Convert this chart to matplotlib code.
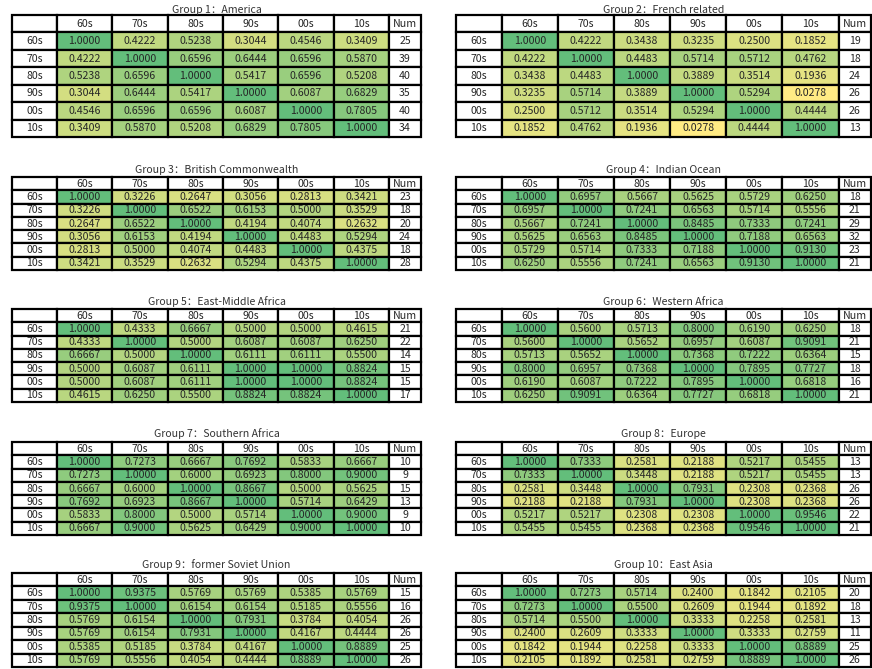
import matplotlib
matplotlib.use("Agg")
import matplotlib.pyplot as plt
from matplotlib.colors import LinearSegmentedColormap, Normalize

plt.rcParams['font.family'] = ['Noto Sans CJK SC', 'DejaVu Sans']

decades = ["60s", "70s", "80s", "90s", "00s", "10s"]

titles = ["Group 1：America", "Group 2：French related", "Group 3：British Commonwealth",
          "Group 4：Indian Ocean", "Group 5：East-Middle Africa", "Group 6：Western Africa",
          "Group 7：Southern Africa", "Group 8：Europe", "Group 9：former Soviet Union",
          "Group 10：East Asia"]

g1 = [[1.0000, 0.4222, 0.5238, 0.3044, 0.4546, 0.3409],
      [0.4222, 1.0000, 0.6596, 0.6444, 0.6596, 0.5870],
      [0.5238, 0.6596, 1.0000, 0.5417, 0.6596, 0.5208],
      [0.3044, 0.6444, 0.5417, 1.0000, 0.6087, 0.6829],
      [0.4546, 0.6596, 0.6596, 0.6087, 1.0000, 0.7805],
      [0.3409, 0.5870, 0.5208, 0.6829, 0.7805, 1.0000]]
g2 = [[1.0000, 0.4222, 0.3438, 0.3235, 0.2500, 0.1852],
      [0.4222, 1.0000, 0.4483, 0.5714, 0.5712, 0.4762],
      [0.3438, 0.4483, 1.0000, 0.3889, 0.3514, 0.1936],
      [0.3235, 0.5714, 0.3889, 1.0000, 0.5294, 0.0278],
      [0.2500, 0.5712, 0.3514, 0.5294, 1.0000, 0.4444],
      [0.1852, 0.4762, 0.1936, 0.0278, 0.4444, 1.0000]]
g3 = [[1.0000, 0.3226, 0.2647, 0.3056, 0.2813, 0.3421],
      [0.3226, 1.0000, 0.6522, 0.6153, 0.5000, 0.3529],
      [0.2647, 0.6522, 1.0000, 0.4194, 0.4074, 0.2632],
      [0.3056, 0.6153, 0.4194, 1.0000, 0.4483, 0.5294],
      [0.2813, 0.5000, 0.4074, 0.4483, 1.0000, 0.4375],
      [0.3421, 0.3529, 0.2632, 0.5294, 0.4375, 1.0000]]
g4 = [[1.0000, 0.6957, 0.5667, 0.5625, 0.5729, 0.6250],
      [0.6957, 1.0000, 0.7241, 0.6563, 0.5714, 0.5556],
      [0.5667, 0.7241, 1.0000, 0.8485, 0.7333, 0.7241],
      [0.5625, 0.6563, 0.8485, 1.0000, 0.7188, 0.6563],
      [0.5729, 0.5714, 0.7333, 0.7188, 1.0000, 0.9130],
      [0.6250, 0.5556, 0.7241, 0.6563, 0.9130, 1.0000]]
g5 = [[1.0000, 0.4333, 0.6667, 0.5000, 0.5000, 0.4615],
      [0.4333, 1.0000, 0.5000, 0.6087, 0.6087, 0.6250],
      [0.6667, 0.5000, 1.0000, 0.6111, 0.6111, 0.5500],
      [0.5000, 0.6087, 0.6111, 1.0000, 1.0000, 0.8824],
      [0.5000, 0.6087, 0.6111, 1.0000, 1.0000, 0.8824],
      [0.4615, 0.6250, 0.5500, 0.8824, 0.8824, 1.0000]]
g6 = [[1.0000, 0.5600, 0.5713, 0.8000, 0.6190, 0.6250],
      [0.5600, 1.0000, 0.5652, 0.6957, 0.6087, 0.9091],
      [0.5713, 0.5652, 1.0000, 0.7368, 0.7222, 0.6364],
      [0.8000, 0.6957, 0.7368, 1.0000, 0.7895, 0.7727],
      [0.6190, 0.6087, 0.7222, 0.7895, 1.0000, 0.6818],
      [0.6250, 0.9091, 0.6364, 0.7727, 0.6818, 1.0000]]
g7 = [[1.0000, 0.7273, 0.6667, 0.7692, 0.5833, 0.6667],
      [0.7273, 1.0000, 0.6000, 0.6923, 0.8000, 0.9000],
      [0.6667, 0.6000, 1.0000, 0.8667, 0.5000, 0.5625],
      [0.7692, 0.6923, 0.8667, 1.0000, 0.5714, 0.6429],
      [0.5833, 0.8000, 0.5000, 0.5714, 1.0000, 0.9000],
      [0.6667, 0.9000, 0.5625, 0.6429, 0.9000, 1.0000]]
g8 = [[1.0000, 0.7333, 0.2581, 0.2188, 0.5217, 0.5455],
      [0.7333, 1.0000, 0.3448, 0.2188, 0.5217, 0.5455],
      [0.2581, 0.3448, 1.0000, 0.7931, 0.2308, 0.2368],
      [0.2188, 0.2188, 0.7931, 1.0000, 0.2308, 0.2368],
      [0.5217, 0.5217, 0.2308, 0.2308, 1.0000, 0.9546],
      [0.5455, 0.5455, 0.2368, 0.2368, 0.9546, 1.0000]]
g9 = [[1.0000, 0.9375, 0.5769, 0.5769, 0.5385, 0.5769],
      [0.9375, 1.0000, 0.6154, 0.6154, 0.5185, 0.5556],
      [0.5769, 0.6154, 1.0000, 0.7931, 0.3784, 0.4054],
      [0.5769, 0.6154, 0.7931, 1.0000, 0.4167, 0.4444],
      [0.5385, 0.5185, 0.3784, 0.4167, 1.0000, 0.8889],
      [0.5769, 0.5556, 0.4054, 0.4444, 0.8889, 1.0000]]
g10 = [[1.0000, 0.7273, 0.5714, 0.2400, 0.1842, 0.2105],
       [0.7273, 1.0000, 0.5500, 0.2609, 0.1944, 0.1892],
       [0.5714, 0.5500, 1.0000, 0.3333, 0.2258, 0.2581],
       [0.2400, 0.2609, 0.3333, 1.0000, 0.3333, 0.2759],
       [0.1842, 0.1944, 0.2258, 0.3333, 1.0000, 0.8889],
       [0.2105, 0.1892, 0.2581, 0.2759, 0.8889, 1.0000]]
groups = [g1, g2, g3, g4, g5, g6, g7, g8, g9, g10]

nums = [[25, 39, 40, 35, 40, 34],
        [19, 18, 24, 26, 26, 13],
        [23, 18, 20, 24, 18, 28],
        [18, 21, 29, 32, 23, 21],
        [21, 22, 14, 15, 15, 17],
        [18, 21, 15, 18, 16, 21],
        [10, 9, 15, 13, 9, 10],
        [13, 13, 26, 26, 22, 21],
        [15, 16, 26, 26, 25, 26],
        [20, 18, 13, 11, 25, 26]]

# excel style green-yellow colour scale
cmap = LinearSegmentedColormap.from_list("gy", ["#FFEB84", "#63BE7B"])
allvals = [v for g in groups for row in g for v in row]
norm = Normalize(min(allvals), max(allvals))

W, H = 872, 669
fig = plt.figure(figsize=(W / 100, H / 100), dpi=100)

# pixel boxes: (left, top, bottom) per table row, title centre y
rows_px = [(15, 137, 10), (177, 270, 170), (309, 402, 302), (442, 535, 434), (573, 667, 565)]
cols_px = [(12, 421), (456, 871)]
col_w = [45] + [55.3] * 6 + [32]

for k, g in enumerate(groups):
    top, bot, ty = rows_px[k // 2]
    left, right = cols_px[k % 2]
    ax = fig.add_axes([left / W, 1 - bot / H, (right - left) / W, (bot - top) / H])
    ax.axis('off')

    text = [[""] + decades + ["Num"]]
    colours = [["white"] * 8]
    for i in range(6):
        text.append([decades[i]] + ["%.4f" % v for v in g[i]] + [str(nums[k][i])])
        colours.append(["white"] + [cmap(norm(v)) for v in g[i]] + ["white"])

    tab = ax.table(cellText=text, cellColours=colours, cellLoc='center',
                   colWidths=[c / sum(col_w) for c in col_w], bbox=[0, 0, 1, 1])
    tab.auto_set_font_size(False)
    tab.set_fontsize(7.6)
    for cell in tab.get_celld().values():
        cell.set_linewidth(1.6)
        cell.set_edgecolor("black")
        cell.get_text().set_color("#262626")

    fig.text((left + right) / 2 / W, 1 - ty / H, titles[k], ha='center', va='center',
             fontsize=7.6, color="#333333")

plt.savefig("out.png", dpi=100)
